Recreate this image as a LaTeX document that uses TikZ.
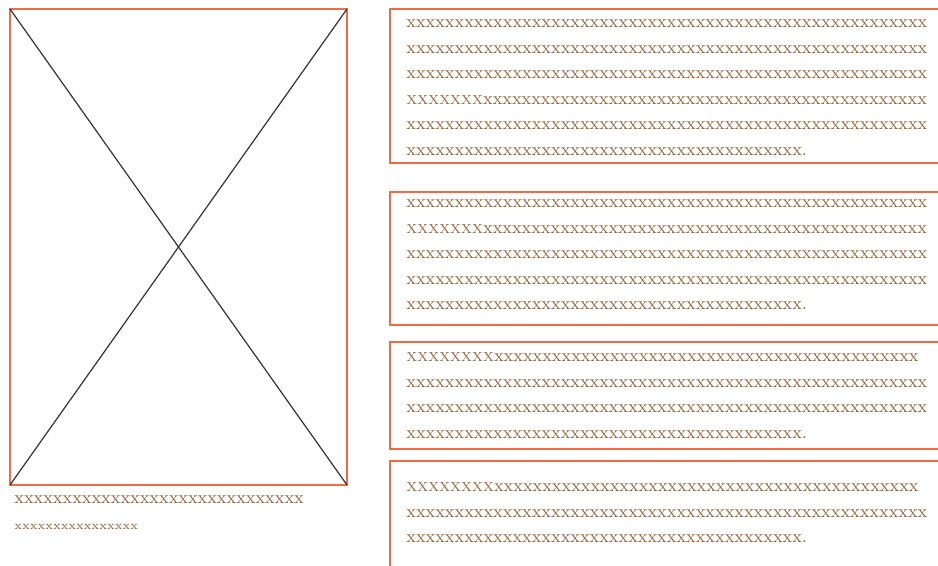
\documentclass[tikz,border=0pt]{standalone}
\usepackage{fontspec}
\usepackage{tikz}
\definecolor{wfline}{RGB}{241,108,68}
\definecolor{wfbrown}{RGB}{145,98,55}
\definecolor{wfgray}{RGB}{50,50,50}
\newcommand{\xrun}{xxxxxxxxxxxxxxxxxxxxxxxxxxxxxxxxxxxxxxxxxxxxxxxxxxxxxx}
\newcommand{\xrunb}{xxxxxxxxxxxxxxxxxxxxxxxxxxxxxxxxxxxxxxxxxxxxxx}
\newcommand{\xrunc}{xxxxxxxxxxxxxxxxxxxxxxxxxxxxxxxxxxxxxxxxxxxx}
\newcommand{\xend}{xxxxxxxxxxxxxxxxxxxxxxxxxxxxxxxxxxxxxxxxx.}
\newcommand{\xcaps}[1]{{\fontsize{6.5}{9}\selectfont #1}}
\tikzset{
  wfbox/.style={
    rectangle, draw=wfline, line width=0.75pt, inner sep=0pt, outer sep=0pt
  },
  wfcross/.style={draw=wfgray, line width=0.6pt},
  wftext/.style={anchor=base west, inner sep=0pt, text=wfbrown,
    font=\fontsize{8.9}{11}\selectfont\addfontfeatures{FakeBold=3}},
  wfsmall/.style={wftext, font=\fontsize{6}{8}\selectfont\addfontfeatures{FakeBold=4}}
}

\begin{document}
\begin{tikzpicture}[x=0.5pt,y=-0.5pt]
    \useasboundingbox (0,0) rectangle (938,566);
    \clip (0,0) rectangle (938,566);
    % Imagen
    \node[wfbox, minimum width=168.5pt, minimum height=238pt] (img) at (178.5,247) {};
    \draw[wfcross] (img.north west) -- (img.south east);
    \draw[wfcross] (img.north east) -- (img.south west);
    \node[wftext] (cap1) at (14,504) {xxxxxxxxxxxxxxxxxxxxxxxxxxxxxx};
    \node[wfsmall] (cap2) at (14,530) {xxxxxxxxxxxxxxxx};
    % Bloques
    \node[wfbox, minimum width=290pt, minimum height=77pt]   (par1) at (680,86) {};
    \node[wfbox, minimum width=290pt, minimum height=66.5pt] (par2) at (680,258.5) {};
    \node[wfbox, minimum width=290pt, minimum height=53.5pt] (par3) at (680,395.5) {};
    \node[wfbox, minimum width=290pt, minimum height=55.5pt] (par4) at (680,516.5) {};
    % Texto
    \node[wftext] (par1a) at (406,28)    {\xrun};
    \node[wftext] (par1b) at (406,53.5)  {\xrun};
    \node[wftext] (par1c) at (406,79)    {\xrun};
    \node[wftext] (par1d) at (406,104.5) {\xcaps{XXXXXXX}\xrunb};
    \node[wftext] (par1e) at (406,130)   {\xrun};
    \node[wftext] (par1f) at (406,155.5) {\xend};
    \node[wftext] (par2a) at (406,208)   {\xrun};
    \node[wftext] (par2b) at (406,233.5) {\xcaps{XXXXXXX}\xrunb};
    \node[wftext] (par2c) at (406,259)   {\xrun};
    \node[wftext] (par2d) at (406,284.5) {\xrun};
    \node[wftext] (par2e) at (406,310)   {\xend};
    \node[wftext] (par3a) at (406,362)   {\xcaps{XXXXXXXX}\xrunc};
    \node[wftext] (par3b) at (406,387.5) {\xrun};
    \node[wftext] (par3c) at (406,413)   {\xrun};
    \node[wftext] (par3d) at (406,438.5) {\xend};
    \node[wftext] (par4a) at (406,492)   {\xcaps{XXXXXXXX}\xrunc};
    \node[wftext] (par4b) at (406,517.5) {\xrun};
    \node[wftext] (par4c) at (406,543)   {\xend};
\end{tikzpicture}
\end{document}
